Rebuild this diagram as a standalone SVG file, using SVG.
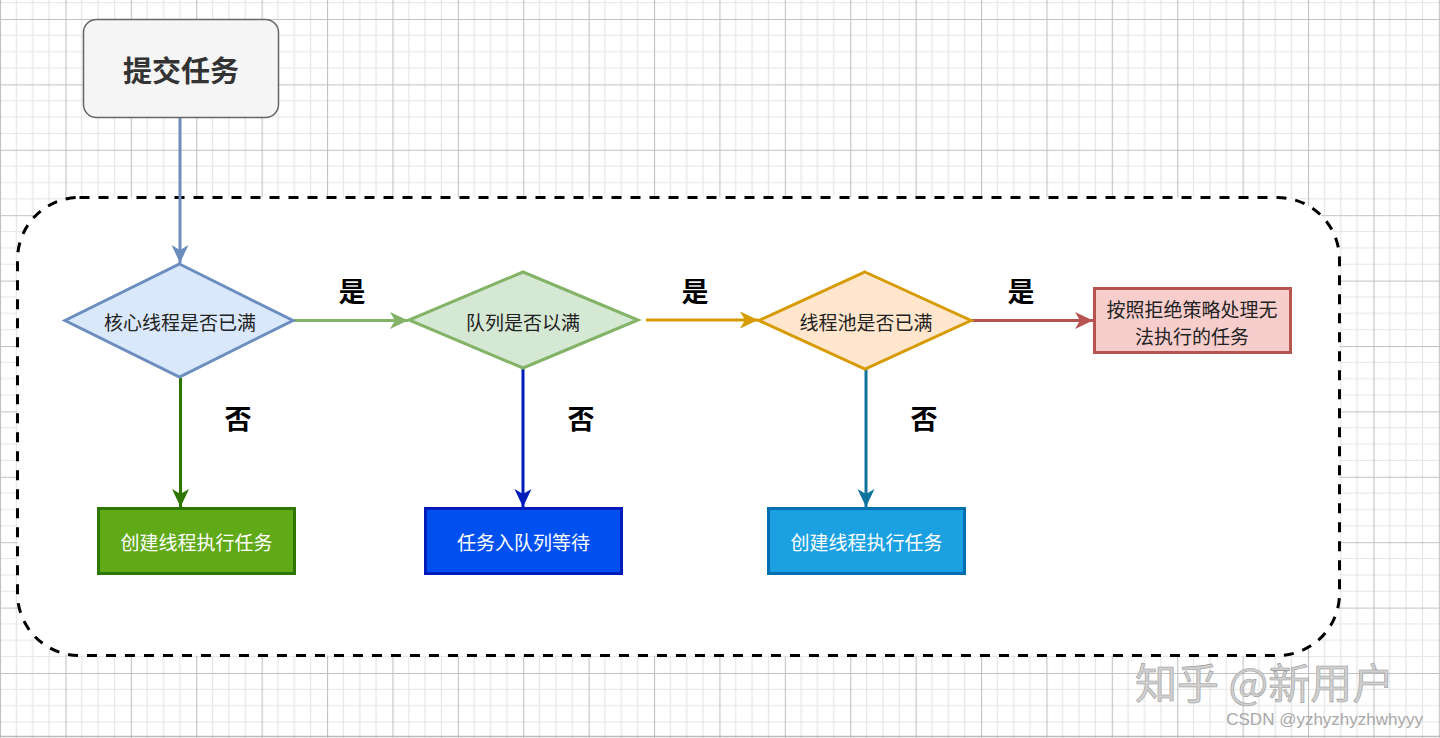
<svg xmlns="http://www.w3.org/2000/svg" width="1440" height="738" viewBox="0 0 1440 738">
<style>
.lbl{font-family:"Noto Sans CJK SC","Noto Sans",sans-serif;font-size:19px;fill:#222;text-anchor:middle;dominant-baseline:central}
.wt{font-family:"Noto Sans CJK SC","Noto Sans",sans-serif;font-size:19px;fill:#fff;text-anchor:middle;dominant-baseline:central}
.yn{font-family:"Noto Sans CJK SC","Noto Sans",sans-serif;font-size:27px;font-weight:bold;fill:#000;text-anchor:middle;dominant-baseline:central}
.edge{fill:none;stroke-width:3}
</style>
<defs>
<pattern id="grid" x="0" y="19" width="65.4" height="65.4" patternUnits="userSpaceOnUse">
<rect width="65.4" height="65.4" fill="#fff"/>
<path d="M16.35 0V65.4M32.7 0V65.4M49.05 0V65.4M0 16.35H65.4M0 32.7H65.4M0 49.05H65.4" stroke="#e6e6e6" stroke-width="1.2" fill="none"/>
<path d="M0.5 0V65.4M0 0.5H65.4" stroke="#c2c2c2" stroke-width="1.2" fill="none"/>
</pattern>
<marker id="aBlue" markerUnits="userSpaceOnUse" markerWidth="20" markerHeight="18" refX="18" refY="8.5" orient="auto"><path d="M0 0L18 8.5L0 17L5 8.5Z" fill="#6c8ebf"/></marker>
<marker id="aGreenL" markerUnits="userSpaceOnUse" markerWidth="20" markerHeight="18" refX="18" refY="8.5" orient="auto"><path d="M0 0L18 8.5L0 17L5 8.5Z" fill="#82b366"/></marker>
<marker id="aOrange" markerUnits="userSpaceOnUse" markerWidth="20" markerHeight="18" refX="18" refY="8.5" orient="auto"><path d="M0 0L18 8.5L0 17L5 8.5Z" fill="#d79b00"/></marker>
<marker id="aRed" markerUnits="userSpaceOnUse" markerWidth="20" markerHeight="18" refX="18" refY="8.5" orient="auto"><path d="M0 0L18 8.5L0 17L5 8.5Z" fill="#b85450"/></marker>
<marker id="aGreenD" markerUnits="userSpaceOnUse" markerWidth="20" markerHeight="18" refX="18" refY="8.5" orient="auto"><path d="M0 0L18 8.5L0 17L5 8.5Z" fill="#2d7600"/></marker>
<marker id="aNavy" markerUnits="userSpaceOnUse" markerWidth="20" markerHeight="18" refX="18" refY="8.5" orient="auto"><path d="M0 0L18 8.5L0 17L5 8.5Z" fill="#001dbc"/></marker>
<marker id="aTeal" markerUnits="userSpaceOnUse" markerWidth="20" markerHeight="18" refX="18" refY="8.5" orient="auto"><path d="M0 0L18 8.5L0 17L5 8.5Z" fill="#10739e"/></marker>
</defs>
<rect width="1440" height="738" fill="url(#grid)"/>
<line x1="0" y1="736.5" x2="1440" y2="736.5" stroke="#bbb" stroke-width="1.5"/>

<g id="container">
<rect x="17.5" y="197.5" width="1322" height="458" rx="62" ry="62" fill="#fff" stroke="#000" stroke-width="3" stroke-dasharray="10 9"/>
</g>

<g id="connectors">
<path class="edge" d="M180 118V263" stroke="#6c8ebf" marker-end="url(#aBlue)"/>
<path class="edge" d="M294 320.5H408" stroke="#82b366" marker-end="url(#aGreenL)"/>
<path class="edge" d="M646 320H758" stroke="#d79b00" marker-end="url(#aOrange)"/>
<path class="edge" d="M971 320.5H1093" stroke="#b85450" marker-end="url(#aRed)"/>
<path class="edge" d="M180.5 378V507" stroke="#2d7600" marker-end="url(#aGreenD)"/>
<path class="edge" d="M523 369V507" stroke="#001dbc" marker-end="url(#aNavy)"/>
<path class="edge" d="M866 369V507" stroke="#10739e" marker-end="url(#aTeal)"/>
</g>

<g id="edge-labels">
<text class="yn" x="352" y="290">是</text>
<text class="yn" x="695" y="290">是</text>
<text class="yn" x="1021" y="290">是</text>
<text class="yn" x="238" y="417">否</text>
<text class="yn" x="581" y="417">否</text>
<text class="yn" x="924" y="417">否</text>
</g>

<g id="submit">
<rect x="83.5" y="19.5" width="195" height="98" rx="13" ry="13" fill="#f5f5f5" stroke="#666" stroke-width="1.5"/>
<text x="181" y="69" style="font-family:'Noto Sans CJK SC','Noto Sans',sans-serif;font-size:29px;font-weight:bold;fill:#333;text-anchor:middle;dominant-baseline:central">提交任务</text>
</g>

<g id="core-full">
<polygon points="179.5,264 293,320.5 179.5,377 65,320.5" fill="#dae8fc" stroke="#6c8ebf" stroke-width="3"/>
<text class="lbl" x="180" y="321">核心线程是否已满</text>
</g>

<g id="queue-full">
<polygon points="523,272 638,320 523,368 409,320" fill="#d5e8d4" stroke="#82b366" stroke-width="3"/>
<text class="lbl" x="523" y="321">队列是否以满</text>
</g>

<g id="pool-full">
<polygon points="865,272 971,320.5 865,369 759,320.5" fill="#ffe6cc" stroke="#d79b00" stroke-width="3"/>
<text class="lbl" x="866" y="321">线程池是否已满</text>
</g>

<g id="reject">
<rect x="1094.5" y="288.5" width="196" height="64" fill="#f8cecc" stroke="#b85450" stroke-width="3"/>
<text class="lbl" x="1192" y="308">按照拒绝策略处理无</text>
<text class="lbl" x="1192" y="335">法执行的任务</text>
</g>

<g id="create-core">
<rect x="98.5" y="508.5" width="196" height="65" fill="#60a917" stroke="#2d7600" stroke-width="3"/>
<text class="wt" x="196.5" y="541">创建线程执行任务</text>
</g>

<g id="enqueue">
<rect x="425.5" y="508.5" width="196" height="65" fill="#0050ef" stroke="#001dbc" stroke-width="3"/>
<text class="wt" x="523.5" y="541">任务入队列等待</text>
</g>

<g id="create-max">
<rect x="768.5" y="508.5" width="196" height="65" fill="#1ba1e2" stroke="#006eaf" stroke-width="3"/>
<text class="wt" x="866.5" y="541">创建线程执行任务</text>
</g>

<g id="watermark">
<text x="1135" y="680" style="font-family:'Noto Sans CJK SC','Noto Sans',sans-serif;font-size:42px;fill:#d0d0d0;stroke:#9a9a9a;stroke-width:0.6;dominant-baseline:central">知乎 @新用户</text>
<text x="1423" y="719" style="font-family:'Liberation Sans',Arial,sans-serif;font-size:17px;fill:#a8a8a8;text-anchor:end;dominant-baseline:central">CSDN @yzhyzhyzhwhyyy</text>
</g>
</svg>
